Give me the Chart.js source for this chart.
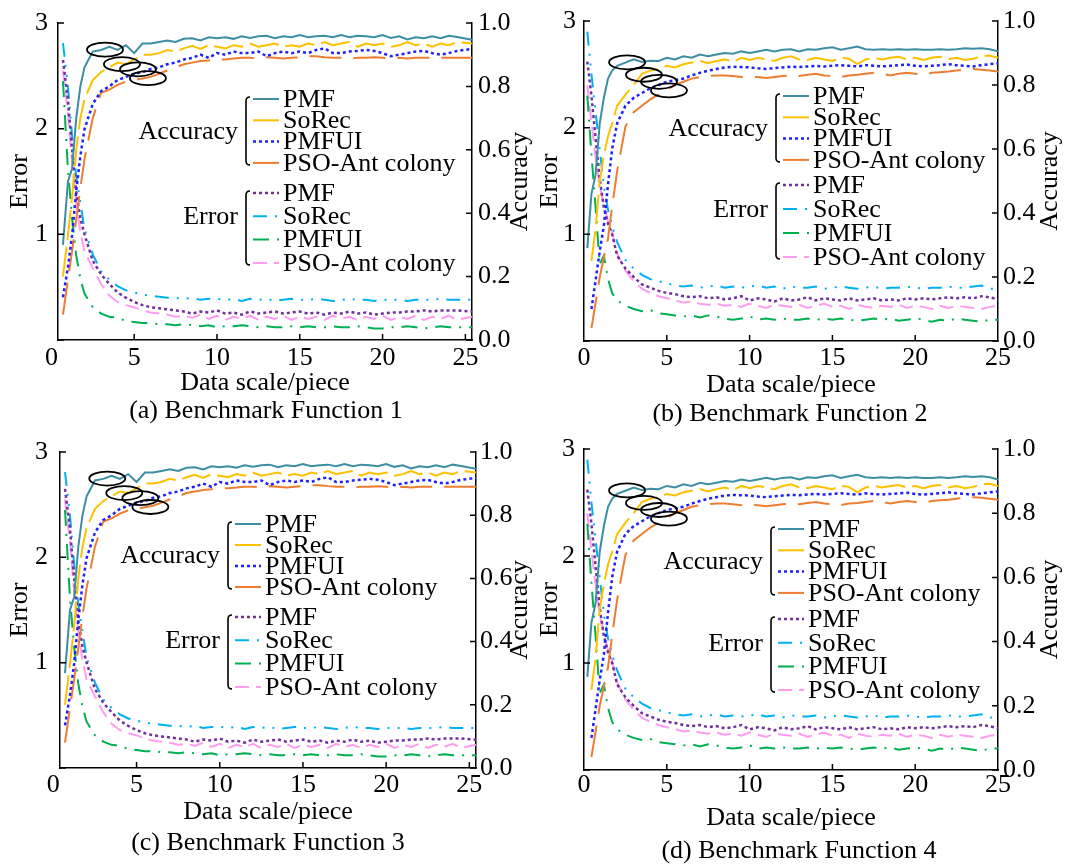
<!DOCTYPE html>
<html>
<head>
<meta charset="utf-8">
<script src="https://cdn.jsdelivr.net/npm/chart.js@4.4.1/dist/chart.umd.min.js"></script>
<style>
    body { margin: 0; background: #fff; }
    #wrap { position: relative; width: 1067px; height: 866px; overflow: hidden; font-family: "Liberation Serif", "Times New Roman", serif; }
    #wrap canvas { position: absolute; }
    .cap { position: absolute; font-size: 26px; line-height: 1; white-space: nowrap; transform: translate(-50%, -50%); color: #000; }
</style>
</head>
<body>
<div id="wrap"></div>
<script>
// Dados
const seriesNames = ["PMF", "SoRec", "PMFUI", "PSO-Ant colony"];
const xTicks = [0, 5, 10, 15, 20, 25];
const errTicks = [0, 1, 2, 3];
const accTicks = [0, 0.2, 0.4, 0.6, 0.8, 1.0];
const captions = ["(a) Benchmark Function 1", "(b) Benchmark Function 2", "(c) Benchmark Function 3", "(d) Benchmark Function 4"];

// conjunto A: painéis (a) e (c)
const xsA = [0.7, 1, 1.25, 1.5, 1.75, 2, 2.5, 3, 3.5, 4, 4.5, 5, 5.5, 6, 6.5, 7, 7.5, 8, 8.5, 9, 9.5, 10,
    10.5, 11, 11.5, 12, 12.5, 13, 13.5, 14, 14.5, 15, 15.5, 16, 16.5, 17, 17.5, 18, 18.5, 19, 19.5, 20,
    20.5, 21, 21.5, 22, 22.5, 23, 23.5, 24, 24.5, 25.4];
const accA_PMF = [0.30, 0.50, 0.54, 0.70, 0.80, 0.86,
    0.91, 0.915, 0.925, 0.915, 0.93, 0.905, 0.935, 0.935, 0.94, 0.945,
    0.94, 0.95, 0.952, 0.945, 0.955, 0.952, 0.955, 0.95, 0.958, 0.953,
    0.958, 0.96, 0.952, 0.958, 0.955, 0.962, 0.955, 0.958, 0.96, 0.955,
    0.962, 0.955, 0.96, 0.958, 0.955, 0.962, 0.953, 0.958, 0.948, 0.955,
    0.952, 0.958, 0.952, 0.96, 0.956, 0.947];
const accA_SoRec = [0.20, 0.33, 0.45, 0.60, 0.70, 0.76,
    0.82, 0.845, 0.86, 0.875, 0.87, 0.885, 0.90, 0.90, 0.905, 0.915,
    0.91, 0.92, 0.928, 0.918, 0.93, 0.925, 0.92, 0.93, 0.925, 0.935,
    0.925, 0.93, 0.935, 0.925, 0.93, 0.925, 0.935, 0.93, 0.94, 0.93,
    0.935, 0.94, 0.925, 0.935, 0.93, 0.935, 0.925, 0.93, 0.94, 0.93,
    0.935, 0.925, 0.935, 0.93, 0.94, 0.935];
const accA_PMFUI = [0.135, 0.23, 0.33, 0.47, 0.58, 0.665,
    0.745, 0.785, 0.80, 0.82, 0.83, 0.84, 0.845, 0.855, 0.86, 0.87,
    0.875, 0.885, 0.89, 0.90, 0.89, 0.905, 0.90, 0.91, 0.905, 0.905,
    0.91, 0.895, 0.905, 0.91, 0.905, 0.91, 0.905, 0.915, 0.92, 0.905,
    0.905, 0.91, 0.912, 0.915, 0.912, 0.905, 0.895, 0.90, 0.905, 0.91,
    0.912, 0.905, 0.90, 0.905, 0.912, 0.918];
const accA_PSO = [0.08, 0.19, 0.28, 0.38, 0.48, 0.57,
    0.70, 0.78, 0.79, 0.805, 0.815, 0.82, 0.825, 0.83, 0.84, 0.85,
    0.86, 0.87, 0.875, 0.88, 0.882, 0.885, 0.885, 0.888, 0.89, 0.89,
    0.888, 0.892, 0.89, 0.888, 0.89, 0.892, 0.895, 0.895, 0.892, 0.89,
    0.89, 0.888, 0.89, 0.89, 0.892, 0.89, 0.888, 0.89, 0.888, 0.89,
    0.89, 0.89, 0.89, 0.89, 0.89, 0.89];
const errA_PMF = [2.65, 2.27, 1.80, 1.40, 1.15, 1.00,
    0.75, 0.62, 0.53, 0.45, 0.40, 0.36, 0.33, 0.31, 0.30, 0.29,
    0.28, 0.27, 0.25, 0.27, 0.26, 0.28, 0.25, 0.26, 0.24, 0.27,
    0.25, 0.26, 0.27, 0.25, 0.26, 0.27, 0.25, 0.26, 0.24, 0.26,
    0.25, 0.27, 0.25, 0.26, 0.24, 0.25, 0.26, 0.26, 0.27, 0.27,
    0.28, 0.27, 0.28, 0.28, 0.28, 0.27];
const errA_SoRec = [2.81, 2.40, 1.93, 1.55, 1.30, 1.05,
    0.81, 0.65, 0.57, 0.51, 0.47, 0.45, 0.43, 0.42, 0.41, 0.40,
    0.40, 0.39, 0.40, 0.38, 0.39, 0.39, 0.38, 0.39, 0.37, 0.39,
    0.38, 0.39, 0.37, 0.38, 0.39, 0.38, 0.38, 0.39, 0.38, 0.37,
    0.38, 0.39, 0.38, 0.38, 0.37, 0.38, 0.38, 0.38, 0.37, 0.38,
    0.38, 0.38, 0.39, 0.38, 0.38, 0.38];
const errA_PMFUI = [2.45, 1.61, 1.15, 0.80, 0.58, 0.44,
    0.31, 0.25, 0.22, 0.21, 0.18, 0.17, 0.16, 0.16, 0.15, 0.15,
    0.14, 0.15, 0.14, 0.13, 0.14, 0.12, 0.13, 0.13, 0.14, 0.13,
    0.12, 0.13, 0.12, 0.12, 0.13, 0.12, 0.13, 0.12, 0.12, 0.13,
    0.12, 0.12, 0.13, 0.12, 0.11, 0.11, 0.12, 0.12, 0.13, 0.12,
    0.11, 0.12, 0.13, 0.12, 0.12, 0.12];
const errA_PSO = [2.55, 2.14, 1.68, 1.30, 1.02, 0.84,
    0.68, 0.53, 0.42, 0.36, 0.33, 0.31, 0.28, 0.26, 0.25, 0.24,
    0.22, 0.23, 0.21, 0.24, 0.20, 0.23, 0.19, 0.22, 0.20, 0.23,
    0.19, 0.22, 0.20, 0.23, 0.19, 0.22, 0.20, 0.22, 0.19, 0.23,
    0.20, 0.22, 0.19, 0.22, 0.20, 0.23, 0.19, 0.22, 0.20, 0.23,
    0.19, 0.22, 0.20, 0.23, 0.19, 0.22];

// conjunto B: painéis (b) e (d)
const xsB = [0.2, 0.45, 0.7, 0.95, 1.2, 1.45, 1.7, 2, 2.5, 3, 3.5, 4, 4.5, 5, 5.5, 6, 6.5, 7, 7.5, 8, 8.5,
    9, 9.5, 10, 10.5, 11, 11.5, 12, 12.5, 13, 13.5, 14, 14.5, 15, 15.5, 16, 16.5, 17, 17.5, 18, 18.5,
    19, 19.5, 20, 20.5, 21, 21.5, 22, 22.5, 23, 23.5, 24, 24.5, 25];
const accB_PMF = [0.29, 0.46, 0.52, 0.68, 0.76, 0.82, 0.845, 0.86,
    0.87, 0.88, 0.872, 0.876, 0.875, 0.885, 0.88, 0.89, 0.885, 0.895,
    0.89, 0.895, 0.90, 0.898, 0.905, 0.90, 0.905, 0.91, 0.905, 0.91,
    0.912, 0.905, 0.912, 0.91, 0.915, 0.918, 0.91, 0.915, 0.92, 0.912,
    0.91, 0.912, 0.91, 0.912, 0.91, 0.912, 0.91, 0.91, 0.912, 0.91,
    0.912, 0.915, 0.913, 0.915, 0.912, 0.905];
const accB_SoRec = [null, 0.25, 0.35, 0.50, 0.58, 0.64, 0.68, 0.735,
    0.77, 0.80, 0.835, 0.845, 0.85, 0.86, 0.855, 0.865, 0.87, 0.875,
    0.868, 0.875, 0.88, 0.872, 0.885, 0.878, 0.885, 0.88, 0.875, 0.885,
    0.89, 0.88, 0.878, 0.885, 0.88, 0.875, 0.885, 0.882, 0.865, 0.88,
    0.885, 0.88, 0.885, 0.888, 0.88, 0.885, 0.878, 0.885, 0.888, 0.88,
    0.885, 0.878, 0.882, 0.89, 0.892, 0.885];
const accB_PMFUI = [null, 0.10, 0.19, 0.28, 0.36, 0.49, 0.60, 0.68,
    0.735, 0.76, 0.775, 0.79, 0.80, 0.81, 0.815, 0.82, 0.83, 0.838,
    0.845, 0.85, 0.855, 0.857, 0.856, 0.855, 0.852, 0.85, 0.853, 0.855,
    0.857, 0.856, 0.858, 0.86, 0.858, 0.86, 0.862, 0.86, 0.858, 0.862,
    0.86, 0.858, 0.86, 0.862, 0.864, 0.86, 0.858, 0.86, 0.862, 0.865,
    0.862, 0.86, 0.858, 0.862, 0.865, 0.868];
const accB_PSO = [null, 0.04, 0.12, 0.20, 0.26, 0.32, 0.42, 0.53,
    0.67, 0.715, 0.735, 0.755, 0.77, 0.785, 0.80, 0.81, 0.82, 0.825,
    0.828, 0.83, 0.83, 0.828, 0.825, 0.826, 0.825, 0.822, 0.825, 0.828,
    0.83, 0.828, 0.832, 0.835, 0.83, 0.828, 0.825, 0.83, 0.832, 0.835,
    0.838, 0.835, 0.83, 0.835, 0.838, 0.835, 0.832, 0.838, 0.84, 0.842,
    0.845, 0.848, 0.85, 0.848, 0.845, 0.842];
const errB_PMF = [2.62, 2.30, 1.90, 1.52, 1.25, 1.10, 1.00, 0.80,
    0.68, 0.60, 0.53, 0.50, 0.47, 0.45, 0.44, 0.42, 0.41, 0.42,
    0.40, 0.41, 0.39, 0.40, 0.42, 0.38, 0.40, 0.39, 0.37, 0.40,
    0.38, 0.39, 0.41, 0.38, 0.40, 0.39, 0.38, 0.40, 0.38, 0.39,
    0.40, 0.38, 0.39, 0.38, 0.40, 0.39, 0.40, 0.39, 0.40, 0.41,
    0.40, 0.41, 0.40, 0.42, 0.41, 0.39];
const errB_SoRec = [2.90, 2.50, 2.15, 1.80, 1.45, 1.23, 1.08, 0.93,
    0.76, 0.68, 0.62, 0.58, 0.56, 0.54, 0.52, 0.51, 0.52, 0.50,
    0.51, 0.52, 0.50, 0.51, 0.50, 0.51, 0.52, 0.50, 0.51, 0.49,
    0.51, 0.50, 0.50, 0.51, 0.49, 0.50, 0.51, 0.50, 0.49, 0.50,
    0.51, 0.49, 0.50, 0.50, 0.51, 0.50, 0.49, 0.50, 0.50, 0.51,
    0.50, 0.50, 0.51, 0.52, 0.49, 0.49];
const errB_PMFUI = [2.30, 1.75, 1.25, 0.72, 0.80, 0.58, 0.45, 0.38,
    0.33, 0.30, 0.28, 0.29, 0.26, 0.25, 0.24, 0.23, 0.24, 0.22,
    0.24, 0.23, 0.21, 0.20, 0.21, 0.23, 0.20, 0.21, 0.20, 0.21,
    0.20, 0.20, 0.21, 0.20, 0.21, 0.20, 0.21, 0.20, 0.19, 0.20,
    0.21, 0.20, 0.21, 0.19, 0.20, 0.21, 0.20, 0.18, 0.20, 0.19,
    0.21, 0.20, 0.19, 0.18, 0.20, 0.20];
const errB_PSO = [2.40, 2.05, 1.72, 1.45, 1.28, 1.12, 1.02, 0.82,
    0.66, 0.56, 0.49, 0.45, 0.42, 0.40, 0.38, 0.36, 0.37, 0.35,
    0.34, 0.35, 0.33, 0.34, 0.32, 0.35, 0.33, 0.31, 0.34, 0.33,
    0.32, 0.34, 0.31, 0.33, 0.35, 0.32, 0.33, 0.30, 0.34, 0.32,
    0.31, 0.33, 0.32, 0.34, 0.31, 0.33, 0.32, 0.30, 0.33, 0.31,
    0.33, 0.32, 0.31, 0.30, 0.32, 0.33];

// elipses marcadas (x, accuracy)
const ellipsesA = [[3.24, 0.916], [4.26, 0.870], [5.23, 0.854], [5.83, 0.826]];
const ellipsesB = [[2.6, 0.871], [3.62, 0.832], [4.53, 0.81], [5.13, 0.783]];

const sets = {
    A: { xs: xsA, acc: [accA_PMF, accA_SoRec, accA_PMFUI, accA_PSO], err: [errA_PMF, errA_SoRec, errA_PMFUI, errA_PSO], ellipses: ellipsesA },
    B: { xs: xsB, acc: [accB_PMF, accB_SoRec, accB_PMFUI, accB_PSO], err: [errB_PMF, errB_SoRec, errB_PMFUI, errB_PSO], ellipses: ellipsesB }
};

// Estilos das linhas
const accStyles = [
    { color: "#3d8ea3", dash: [], width: 2 },
    { color: "#ffc000", dash: [30, 7], width: 2 },
    { color: "#1f1fff", dash: [3, 3], width: 2.5 },
    { color: "#ed7d31", dash: [32, 12], width: 2 }
];
const errStyles = [
    { color: "#7030a0", dash: [3, 3], width: 2.5 },
    { color: "#00b0f0", dash: [14, 8, 2, 8, 2, 8], width: 2 },
    { color: "#00b050", dash: [16, 8, 2, 8], width: 2 },
    { color: "#ff9cf0", dash: [14, 7], width: 2 }
];

const FONT_FAMILY = '"Liberation Serif", "Times New Roman", serif';
const FONT = "26px " + FONT_FAMILY;
Chart.defaults.font = { family: FONT_FAMILY, size: 26, lineHeight: 1 };
Chart.defaults.color = "#000";

// Layout dos painéis
const panels = [
    { set: "A", left: 0, top: 0, w: 533, h: 400, yl: 58, yr: 61, xh: 60, xPad: 5, xTitlePad: 4, lPad: 10, rPad: 6, lTitlePad: 7, rtX: 520, xMin: 0.4, xMax: 25.4,
      legend: { x: 283, acc: 100, accGap: 21.3, err: 194, errGap: 23.3 }, cap: { x: 266, y: 410 } },
    { set: "B", left: 533, top: 0, w: 534, h: 400, yl: 51, yr: 69, xh: 59, xPad: 4, xTitlePad: 2, lPad: 8, rPad: 5, lTitlePad: 4, rtX: 517, xMin: 0, xMax: 25,
      legend: { x: 280, acc: 97, accGap: 21.3, err: 186, errGap: 24 }, cap: { x: 790, y: 413 } },
    { set: "A", left: 0, top: 427, w: 533, h: 400, yl: 60, yr: 57, xh: 59, xPad: 4, xTitlePad: 2, lPad: 12, rPad: 4, lTitlePad: 7, rtX: 520, xMin: 0.4, xMax: 25.4,
      legend: { x: 265, acc: 98, accGap: 21, err: 191, errGap: 23.3 }, cap: { x: 268, y: 842 } },
    { set: "B", left: 533, top: 427, w: 534, h: 406, yl: 51, yr: 69, xh: 63, xPad: 2, xTitlePad: 2, lPad: 9, rPad: 5, lTitlePad: 4, rtX: 517, xMin: 0, xMax: 25,
      legend: { x: 275, acc: 103, accGap: 21.3, err: 193, errGap: 23.7 }, cap: { x: 799, y: 850 } }
];

// Elipses, marcas internas, título direito e legenda com chaves
const decorations = {
    id: "decorations",
    afterDatasetsDraw(chart, args, o) {
        const ctx = chart.ctx, x = chart.scales.x, yA = chart.scales.yAcc;
        ctx.save();
        ctx.strokeStyle = "#000";
        ctx.lineWidth = 1.8;
        o.ellipses.forEach(function (e) {
            ctx.beginPath();
            ctx.ellipse(x.getPixelForValue(e[0]), yA.getPixelForValue(e[1]), 18, 7, 0, 0, Math.PI * 2);
            ctx.stroke();
        });
        ctx.restore();
    },
    afterDraw(chart, args, o) {
        const ctx = chart.ctx, a = chart.chartArea, s = chart.scales;
        ctx.save();
        ctx.strokeStyle = "#000";
        ctx.lineWidth = 1.5;
        ctx.beginPath();
        s.x.ticks.forEach(function (t) {
            if (t.value > s.x.min && t.value < s.x.max) {
                const p = s.x.getPixelForValue(t.value);
                ctx.moveTo(p, a.bottom); ctx.lineTo(p, a.bottom - 6);
            }
        });
        s.yErr.ticks.forEach(function (t) {
            const p = s.yErr.getPixelForValue(t.value);
            ctx.moveTo(a.left, p); ctx.lineTo(a.left + 6, p);
        });
        s.yAcc.ticks.forEach(function (t) {
            const p = s.yAcc.getPixelForValue(t.value);
            ctx.moveTo(a.right, p); ctx.lineTo(a.right - 6, p);
        });
        ctx.stroke();

        // título do eixo direito
        ctx.fillStyle = "#000";
        ctx.font = FONT;
        ctx.save();
        ctx.translate(o.rightTitleX, (a.top + a.bottom) / 2);
        ctx.rotate(-Math.PI / 2);
        ctx.textAlign = "center";
        ctx.textBaseline = "middle";
        ctx.fillText("Accuracy", 0, 0);
        ctx.restore();

        // legenda
        const lg = o.legend;
        const groups = [
            { label: "Accuracy", start: 0, y0: lg.acc, gap: lg.accGap, labelY: lg.acc + 1.5 * lg.accGap },
            { label: "Error", start: 4, y0: lg.err, gap: lg.errGap, labelY: lg.err + lg.errGap }
        ];
        groups.forEach(function (g) {
            const bx = lg.x - 37, top = g.y0 - 3, bot = g.y0 + 3 * g.gap + 1;
            ctx.strokeStyle = "#000";
            ctx.lineWidth = 1.6;
            ctx.setLineDash([]);
            ctx.beginPath();
            ctx.moveTo(bx + 4, top);
            ctx.quadraticCurveTo(bx, top, bx, top + 4);
            ctx.lineTo(bx, bot - 4);
            ctx.quadraticCurveTo(bx, bot, bx + 4, bot);
            ctx.stroke();
            ctx.textAlign = "right";
            ctx.textBaseline = "middle";
            ctx.fillText(g.label, lg.x - 45, g.labelY);
            for (let i = 0; i < 4; i++) {
                const ds = chart.data.datasets[g.start + i];
                const y = g.y0 + i * g.gap;
                ctx.strokeStyle = ds.borderColor;
                ctx.lineWidth = ds.borderWidth;
                ctx.setLineDash(ds.borderDash);
                ctx.beginPath();
                ctx.moveTo(lg.x - 30, y - 1);
                ctx.lineTo(lg.x - 4, y - 1);
                ctx.stroke();
                ctx.setLineDash([]);
                ctx.textAlign = "left";
                ctx.fillText(ds.label, lg.x, y);
            }
        });
        ctx.restore();
    }
};

function lineSet(label, xs, ys, st, axis) {
    return {
        label: label,
        data: xs.map(function (x, i) { return { x: x, y: ys[i] }; }),
        yAxisID: axis,
        borderColor: st.color,
        borderDash: st.dash,
        borderWidth: st.width,
        pointRadius: 0,
        tension: 0,
        fill: false
    };
}

const wrap = document.getElementById("wrap");
panels.forEach(function (p, k) {
    const canvas = document.createElement("canvas");
    canvas.width = p.w;
    canvas.height = p.h;
    canvas.style.left = p.left + "px";
    canvas.style.top = p.top + "px";
    wrap.appendChild(canvas);

    const cap = document.createElement("div");
    cap.className = "cap";
    cap.textContent = captions[k];
    cap.style.left = p.cap.x + "px";
    cap.style.top = p.cap.y + "px";
    wrap.appendChild(cap);

    const d = sets[p.set];
    const datasets = [];
    seriesNames.forEach(function (n, i) { datasets.push(lineSet(n, d.xs, d.acc[i], accStyles[i], "yAcc")); });
    seriesNames.forEach(function (n, i) { datasets.push(lineSet(n, d.xs, d.err[i], errStyles[i], "yErr")); });

    new Chart(canvas.getContext("2d"), {
        type: "line",
        data: { datasets: datasets },
        options: {
            responsive: false,
            animation: false,
            layout: { padding: { top: 18, left: 0, right: 0, bottom: 0 } },
            plugins: {
                legend: { display: false },
                tooltip: { enabled: false },
                decorations: { ellipses: d.ellipses, legend: p.legend, rightTitleX: p.rtX }
            },
            scales: {
                x: {
                    type: "linear", min: p.xMin, max: p.xMax,
                    afterBuildTicks: function (s) { s.ticks = xTicks.map(function (v) { return { value: v }; }); },
                    afterFit: function (s) { s.height = p.xh; },
                    grid: { display: false, drawTicks: false },
                    border: { display: true, color: "#000", width: 1.5 },
                    ticks: { padding: p.xPad, autoSkip: false, maxRotation: 0, color: "#000" },
                    title: { display: true, text: "Data scale/piece", padding: { top: 0, bottom: p.xTitlePad } }
                },
                yErr: {
                    type: "linear", position: "left", min: 0, max: 3,
                    afterBuildTicks: function (s) { s.ticks = errTicks.map(function (v) { return { value: v }; }); },
                    afterFit: function (s) { s.width = p.yl; },
                    grid: { display: false, drawTicks: false },
                    border: { display: true, color: "#000", width: 1.5 },
                    ticks: { padding: p.lPad, color: "#000", callback: function (v) { return v === 0 ? "" : String(v); } },
                    title: { display: true, text: "Error", padding: { top: p.lTitlePad, bottom: 0 } }
                },
                yAcc: {
                    type: "linear", position: "right", min: 0, max: 1,
                    afterBuildTicks: function (s) { s.ticks = accTicks.map(function (v) { return { value: v }; }); },
                    afterFit: function (s) { s.width = p.yr; },
                    grid: { display: false, drawTicks: false },
                    border: { display: true, color: "#000", width: 1.5 },
                    ticks: { padding: p.rPad, color: "#000", callback: function (v) { return v.toFixed(1); } }
                }
            }
        },
        plugins: [decorations]
    });
});
</script>
</body>
</html>
